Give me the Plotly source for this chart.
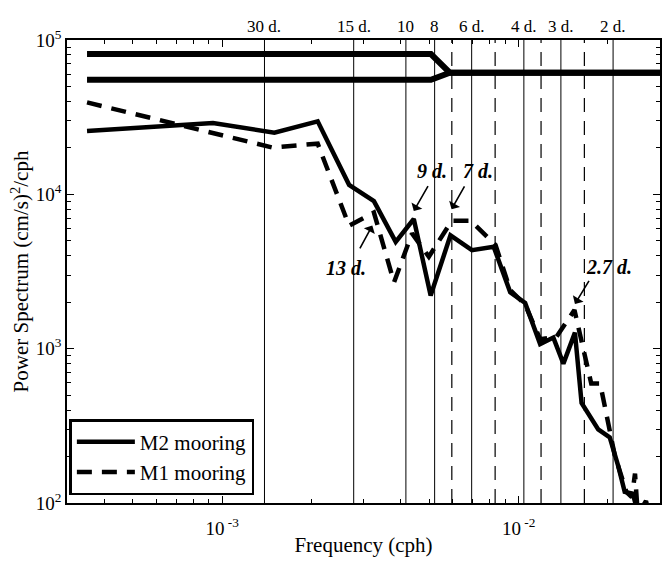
import plotly.graph_objects as go
import numpy as np

# ---------------- data ----------------
# M2 mooring (solid line)
m2_freq = [3.50e-4, 9.31e-4, 1.50e-3, 2.10e-3, 2.68e-3, 3.25e-3, 3.85e-3, 4.43e-3,
           5.05e-3, 5.89e-3, 6.96e-3, 8.24e-3, 9.37e-3, 1.052e-2, 1.182e-2, 1.310e-2,
           1.416e-2, 1.549e-2, 1.631e-2, 1.718e-2, 1.856e-2, 2.03e-2, 2.166e-2, 2.28e-2,
           2.43e-2, 2.53e-2, 2.69e-2, 2.80e-2]
m2_power = [2.57e4, 2.90e4, 2.51e4, 2.97e4, 1.152e4, 9.04e3, 4.92e3, 6.92e3,
            2.21e3, 5.42e3, 4.35e3, 4.57e3, 2.32e3, 1.98e3, 1.07e3, 1.18e3,
            800, 1.27e3, 445, 383, 300, 266, 175, 118,
            115, 85, 103, 75]

# M1 mooring (dashed line)
m1_freq = [3.50e-4, 1.479e-3, 2.10e-3, 2.68e-3, 3.25e-3, 3.80e-3, 4.37e-3, 4.98e-3,
           5.95e-3, 6.89e-3, 8.36e-3, 9.37e-3, 1.052e-2, 1.182e-2, 1.34e-2, 1.543e-2,
           1.758e-2, 1.884e-2, 2.11e-2, 2.31e-2, 2.41e-2, 2.47e-2, 2.53e-2]
m1_power = [3.94e4, 2.01e4, 2.13e4, 6.27e3, 7.62e3, 2.69e3, 5.58e3, 3.94e3,
            6.75e3, 6.75e3, 4.69e3, 2.40e3, 1.93e3, 1.15e3, 1.19e3, 1.78e3,
            595, 595, 204, 118, 109, 155, 79]

# bandwidth indicator bars at the top
bar_freq = [3.50e-4, 5.06e-3, 5.86e-3, 3.2e-2]
bar_upper = [8.1e4, 8.1e4, 6.14e4, 6.14e4]
bar_lower = [5.52e4, 5.52e4, 6.14e4, 6.14e4]

# reference periods (days)
solid_periods = [30, 15, 10, 8, 6, 4, 3, 2]
solid_labels = ["30 d.", "15 d.", "10", "8", "6 d.", "4 d.", "3 d.", "2 d."]
dashed_periods = [7, 5, 3.5, 2.5]

# annotated peaks: label, text pos (freq, power), arrow tail, arrow head
peak_labels = ["9 d.", "7 d.", "13 d.", "2.7 d."]
peak_text_f = [5.10e-3, 7.28e-3, 2.615e-3, 2.017e-2]
peak_text_p = [1.42e4, 1.42e4, 3.35e3, 3.37e3]
peak_tail_f = [4.98e-3, 6.61e-3, 2.897e-3, 1.74e-2]
peak_tail_p = [1.156e4, 1.151e4, 4.36e3, 2.81e3]
peak_head_f = [4.43e-3, 5.94e-3, 3.21e-3, 1.549e-2]
peak_head_p = [7.80e3, 8.0e3, 6.27e3, 1.95e3]

FONT = "Liberation Serif"

fig = go.Figure()

# vertical reference lines
for p in solid_periods:
    f = 1.0 / (24.0 * p)
    fig.add_trace(go.Scatter(x=[f, f], y=[1e2, 1e5], mode="lines",
                             line=dict(color="black", width=1), showlegend=False,
                             hoverinfo="skip"))
for p in dashed_periods:
    f = 1.0 / (24.0 * p)
    fig.add_trace(go.Scatter(x=[f, f], y=[1e2, 1e5], mode="lines",
                             line=dict(color="black", width=1.2, dash="14px,9px"),
                             showlegend=False, hoverinfo="skip"))

# bars at top
for b in (bar_upper, bar_lower):
    fig.add_trace(go.Scatter(x=bar_freq, y=b, mode="lines",
                             line=dict(color="black", width=6), showlegend=False,
                             hoverinfo="skip"))

fig.add_trace(go.Scatter(x=m1_freq, y=m1_power, mode="lines", name="M1 mooring",
                         line=dict(color="black", width=4.5, dash="15px,10px"),
                         legendrank=2))
fig.add_trace(go.Scatter(x=m2_freq, y=m2_power, mode="lines", name="M2 mooring",
                         line=dict(color="black", width=4.5), legendrank=1))

annotations = []
for p, lab in zip(solid_periods, solid_labels):
    f = 1.0 / (24.0 * p)
    annotations.append(dict(x=np.log10(f), xref="x", y=1.0, yref="paper",
                            text=lab, showarrow=False, yanchor="bottom", yshift=2,
                            font=dict(family=FONT, size=17, color="black")))
for i, lab in enumerate(peak_labels):
    annotations.append(dict(x=np.log10(peak_text_f[i]), y=np.log10(peak_text_p[i]),
                            xref="x", yref="y", text="<b><i>%s</i></b>" % lab,
                            showarrow=False,
                            font=dict(family=FONT, size=20, color="black")))
    annotations.append(dict(x=np.log10(peak_head_f[i]), y=np.log10(peak_head_p[i]),
                            xref="x", yref="y", ax=np.log10(peak_tail_f[i]),
                            ay=np.log10(peak_tail_p[i]), axref="x", ayref="y",
                            text="", showarrow=True, arrowhead=1, arrowsize=1.3,
                            arrowwidth=1.6, arrowcolor="black"))

x_minor = [m * 10.0 ** e for e in (-4, -3, -2) for m in range(2, 10)]
y_minor = [m * 10.0 ** e for e in (2, 3, 4) for m in range(2, 10)]

fig.update_layout(
    width=670, height=561,
    margin=dict(l=67, r=8, t=40, b=51),
    paper_bgcolor="white", plot_bgcolor="white",
    font=dict(family=FONT, size=19, color="black"),
    showlegend=True,
    legend=dict(x=0.004, y=0.017, xanchor="left", yanchor="bottom",
                bgcolor="white", bordercolor="black", borderwidth=2.5,
                font=dict(family=FONT, size=21, color="black"),
                tracegroupgap=0, itemwidth=58),
    annotations=annotations,
    xaxis=dict(type="log", range=[-3.5235, -1.523],
               tickvals=[1e-3, 1e-2], ticktext=["10<sup> -3</sup>", "10<sup> -2</sup>"],
               ticks="inside", ticklen=7, tickwidth=1, tickcolor="black",
               ticklabelstandoff=7,
               minor=dict(tickvals=x_minor, ticks="inside", ticklen=4,
                          tickcolor="black", tickwidth=1),
               showline=True, linecolor="black", linewidth=1.5, mirror="ticks",
               showgrid=False, zeroline=False,
               title=dict(text="Frequency (cph)", standoff=0,
                          font=dict(family=FONT, size=21))),
    yaxis=dict(type="log", range=[2, 5],
               tickvals=[1e2, 1e3, 1e4, 1e5],
               ticktext=["10<sup>2</sup>", "10<sup>3</sup>", "10<sup>4</sup>", "10<sup>5</sup>"],
               ticks="inside", ticklen=7, tickwidth=1, tickcolor="black",
               minor=dict(tickvals=y_minor, ticks="inside", ticklen=4,
                          tickcolor="black", tickwidth=1),
               showline=True, linecolor="black", linewidth=1.5, mirror="ticks",
               showgrid=False, zeroline=False,
               title=dict(text="Power Spectrum (cm/s)<sup>2</sup>/cph", standoff=1,
                          font=dict(family=FONT, size=21))),
)

fig.write_html("out.html")
